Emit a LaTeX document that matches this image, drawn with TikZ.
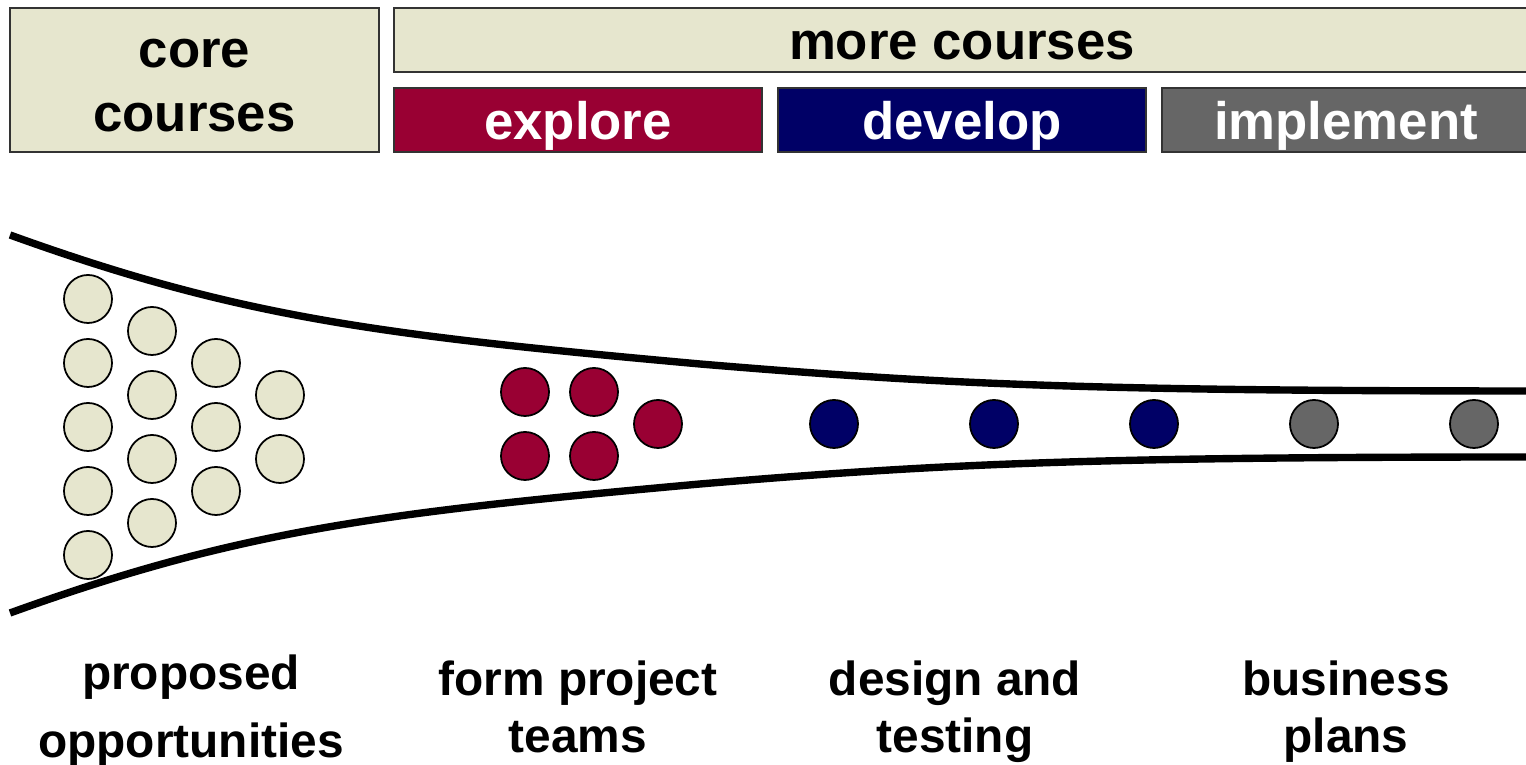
\documentclass[tikz,border=0pt]{standalone}
\usepackage{fontspec}
\setmainfont{Liberation Sans}
\definecolor{beige}{HTML}{E6E6CE}
\definecolor{wine}{HTML}{990033}
\definecolor{navy}{HTML}{000066}
\definecolor{slate}{HTML}{666666}
\tikzset{
  box/.style={draw=black!80, line width=0.6pt, fill=beige, inner sep=0pt, minimum height=0.64cm, align=center, font=\fontsize{15pt}{18pt}\selectfont\bfseries},
  tag/.style={text height=11.25pt, text depth=0pt},
  phase/.style={box, tag, text=white, minimum width=3.68cm},
  idea/.style={shape=circle, draw=black, line width=0.5pt, inner sep=0pt, minimum size=0.48cm},
  stage/.style={anchor=north, inner sep=0pt, align=center, font=\fontsize{13.6pt}{16.2pt}\selectfont\bfseries},
  funnel/.style={line width=2.1pt}
}
\begin{document}
\begin{tikzpicture}[x=0.01cm, y=-0.01cm]
\useasboundingbox (0,0) rectangle (1526,765);
\clip (0,0) rectangle (1526,765);
\node[box, minimum width=3.69cm, minimum height=1.44cm] (core) at (194.5,80) {\rule{0pt}{11.25pt}core\\courses};
\node[box, tag, minimum width=11.36cm] (more) at (962,40) {more courses};
\node[phase, fill=wine] (explore) at (578,120) {explore};
\node[phase, fill=navy] (develop) at (962,120) {develop};
\node[phase, fill=slate] (implement) at (1346,120) {implement};
\draw[funnel] (10,235) .. controls (240,318) and (380,335) .. (700,364) .. controls (950,385) and (1100,391) .. (1540,391);
\draw[funnel] (10,613) .. controls (240,530) and (380,513) .. (700,484) .. controls (950,463) and (1100,457) .. (1540,457);
\node[idea, fill=beige] (b1) at (88,299) {};
\node[idea, fill=beige] (b2) at (88,363) {};
\node[idea, fill=beige] (b3) at (88,427) {};
\node[idea, fill=beige] (b4) at (88,491) {};
\node[idea, fill=beige] (b5) at (88,555) {};
\node[idea, fill=beige] (b6) at (152,331) {};
\node[idea, fill=beige] (b7) at (152,395) {};
\node[idea, fill=beige] (b8) at (152,459) {};
\node[idea, fill=beige] (b9) at (152,523) {};
\node[idea, fill=beige] (b10) at (216,363) {};
\node[idea, fill=beige] (b11) at (216,427) {};
\node[idea, fill=beige] (b12) at (216,491) {};
\node[idea, fill=beige] (b13) at (280,395) {};
\node[idea, fill=beige] (b14) at (280,459) {};
\node[idea, fill=wine] (r1) at (525,392) {};
\node[idea, fill=wine] (r2) at (594,392) {};
\node[idea, fill=wine] (r3) at (525,456) {};
\node[idea, fill=wine] (r4) at (594,456) {};
\node[idea, fill=wine] (r5) at (658,424) {};
\node[idea, fill=navy] (d1) at (834,424) {};
\node[idea, fill=navy] (d2) at (994,424) {};
\node[idea, fill=navy] (d3) at (1154,424) {};
\node[idea, fill=slate] (i1) at (1314,424) {};
\node[idea, fill=slate] (i2) at (1474,424) {};
\node[stage] (proposed) at (191,653) {\rule{0pt}{10.2pt}proposed\\[3pt]opportunities};
\node[stage] (teams) at (578,659) {\rule{0pt}{10.2pt}form project\\teams};
\node[stage] (testing) at (955,659) {\rule{0pt}{10.2pt}design and\\testing};
\node[stage] (plans) at (1346,659) {\rule{0pt}{10.2pt}business\\plans};
\end{tikzpicture}
\end{document}
